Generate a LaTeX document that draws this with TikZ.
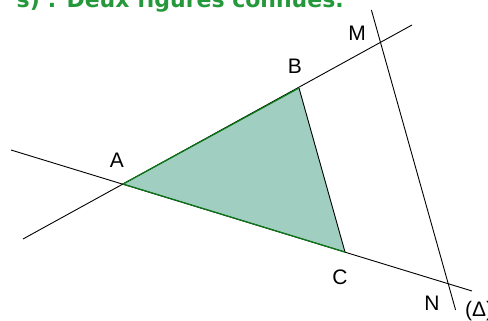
\documentclass[tikz,border=0pt]{standalone}
\usepackage{fontspec}
\setmainfont{Liberation Sans}
\newfontfamily\titlefont[Ligatures=CommonOff]{DejaVu Sans}
\definecolor{titlegreen}{RGB}{36,152,58}
\definecolor{trifill}{RGB}{160,207,193}
\definecolor{edgegreen}{RGB}{10,120,20}
\begin{document}
\begin{tikzpicture}[x=1pt, y=-1pt,
  ligne/.style={black, line width=0.9pt},
  cote/.style={draw=edgegreen, line width=1.2pt, line join=round},
  lettre/.style={font=\fontsize{21}{21}\selectfont, inner sep=0pt},
  titre/.style={font=\titlefont\bfseries\fontsize{22}{22}\selectfont, text=titlegreen, inner sep=0pt}
]
\useasboundingbox (0,0) rectangle (488,321);
% points of the figure
\coordinate (A) at (123,184);
\coordinate (B) at (299,88);
\coordinate (C) at (345,252);
\coordinate (ab1) at (23,239);
\coordinate (ab2) at (412,25);
\coordinate (ac1) at (11,150);
\coordinate (ac2) at (472,291);
\coordinate (d1) at (371.4,10);
\coordinate (d2) at (455.6,310);
\coordinate (M) at (intersection of ab1--ab2 and d1--d2);
\coordinate (N) at (intersection of ac1--ac2 and d1--d2);
% triangle
\fill[trifill] (A) -- (B) -- (C) -- cycle;
\draw[ligne] (ab1) -- (ab2);
\draw[ligne] (ac1) -- (ac2);
\draw[ligne] (d1) -- (d2);
\draw[ligne] (B) -- (C);
\draw[cote] (B) -- (A) -- (C);
% labels
\node[lettre] (lA) at (117,160) {A};
\node[lettre] (lB) at (295,66) {B};
\node[lettre] (lC) at (340,277) {C};
\node[lettre] (lM) at (357,33) {M};
\node[lettre] (lN) at (432,303) {N};
\node[lettre, anchor=west] (lD) at (465,311) {(Δ)};
\node[titre, anchor=base east] (titre) at (344,8) {s) : Deux figures connues.};
\end{tikzpicture}
\end{document}
